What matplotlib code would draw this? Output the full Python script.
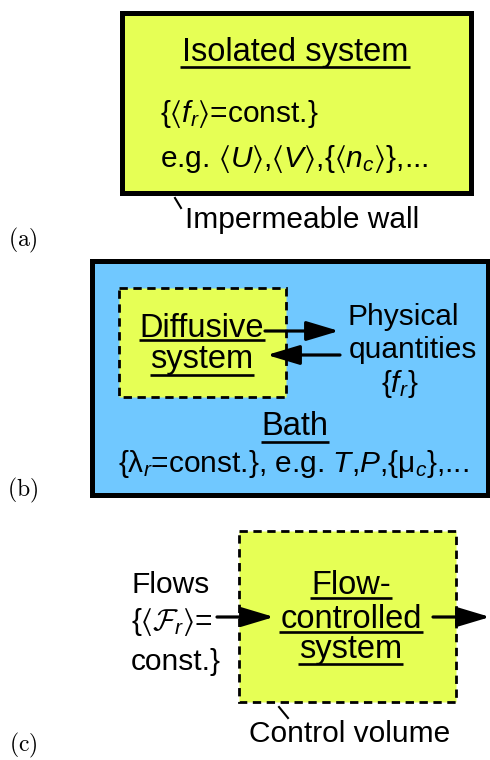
import matplotlib
matplotlib.use("Agg")
import matplotlib.pyplot as plt
from matplotlib.patches import Rectangle, FancyArrowPatch

# ---- text content ----
PANEL_LABELS = ["(a)", "(b)", "(c)"]
ISOLATED_TITLE = "Isolated system"
ISOLATED_LINES = [r"{$\langle f_r\rangle$=const.}",
                  r"e.g. $\langle U\rangle$,$\langle V\rangle$,{$\langle n_c\rangle$},..."]
WALL_LABEL = "Impermeable wall"
DIFFUSIVE_TITLE = ["Diffusive", "system"]
PHYS_LINES = ["Physical", "quantities", r"{$f_r$}"]
BATH_TITLE = "Bath"
BATH_LINE = r"{λ$_r$=const.}, e.g. $T$,$P$,{μ$_c$},..."
FLOW_TITLE = ["Flow-", "controlled", "system"]
FLOWS_LINES = ["Flows", r"{$\langle\mathcal{F}_r\rangle$=", "const.}"]
CV_LABEL = "Control volume"

YELLOW = "#E6FF55"
BLUE = "#70C8FF"

plt.rcParams["font.family"] = ["Liberation Sans", "DejaVu Sans"]
plt.rcParams["mathtext.fontset"] = "custom"
plt.rcParams["mathtext.rm"] = "Liberation Sans"
plt.rcParams["mathtext.it"] = "Liberation Sans:italic"
plt.rcParams["mathtext.cal"] = "cmsy10"
plt.rcParams["mathtext.fallback"] = "stixsans"
plt.rcParams["lines.scale_dashes"] = False

HEAD = 23.5
BODY = 21.5

fig = plt.figure(figsize=(4.9, 7.6), dpi=100)
ax = fig.add_axes([0, 0, 1, 1])
ax.set_xlim(0, 490)
ax.set_ylim(760, 0)
ax.axis("off")


def uline(x0, x1, y):
    ax.plot([x0, x1], [y, y], color="black", lw=1.9, solid_capstyle="butt")


def arrow(x0, y0, x1, y1):
    ax.add_patch(FancyArrowPatch((x0, y0), (x1, y1),
                                 arrowstyle="-|>,head_length=1.0,head_width=0.3",
                                 mutation_scale=20, lw=2.3, color="black",
                                 shrinkA=0, shrinkB=0))


# ---- (a) isolated system ----
ax.add_patch(Rectangle((121.5, 12.5), 349, 180, facecolor=YELLOW,
                       edgecolor="black", lw=3.6))
ax.text(295, 61, ISOLATED_TITLE, fontsize=HEAD, ha="center", va="baseline")
uline(180, 410, 67)
ax.text(160, 122, ISOLATED_LINES[0], fontsize=BODY, ha="left", va="baseline")
ax.text(160, 167, ISOLATED_LINES[1], fontsize=BODY, ha="left", va="baseline")
ax.plot([175, 181], [198, 208], color="black", lw=1.5)
ax.text(185, 228, WALL_LABEL, fontsize=BODY, ha="left", va="baseline")

# ---- (b) diffusive system in bath ----
ax.add_patch(Rectangle((91.5, 260.5), 396, 234, facecolor=BLUE,
                       edgecolor="black", lw=3.6))
ax.add_patch(Rectangle((119, 288), 167, 109, facecolor=YELLOW,
                       edgecolor="black", lw=2.0, linestyle=(0, (6, 4))))
ax.text(202, 337, DIFFUSIVE_TITLE[0], fontsize=HEAD, ha="center", va="baseline")
uline(139, 265, 340)
ax.text(202, 368, DIFFUSIVE_TITLE[1], fontsize=HEAD, ha="center", va="baseline")
uline(150, 254, 375)
arrow(265, 331, 339, 331)
arrow(340, 355, 267, 355)
ax.text(403, 325, PHYS_LINES[0], fontsize=BODY, ha="center", va="baseline")
ax.text(413, 358, PHYS_LINES[1], fontsize=BODY, ha="center", va="baseline")
ax.text(400, 392, PHYS_LINES[2], fontsize=BODY, ha="center", va="baseline")
ax.text(295, 435, BATH_TITLE, fontsize=HEAD, ha="center", va="baseline")
uline(261, 329, 442)
ax.text(293, 472, BATH_LINE, fontsize=BODY, ha="center", va="baseline")

# ---- (c) flow-controlled system ----
ax.add_patch(Rectangle((239, 531), 217, 171, facecolor=YELLOW,
                       edgecolor="black", lw=2.0, linestyle=(0, (6, 4))))
ax.text(351, 594, FLOW_TITLE[0], fontsize=HEAD, ha="center", va="baseline")
uline(310, 392, 598)
ax.text(351, 628, FLOW_TITLE[1], fontsize=HEAD, ha="center", va="baseline")
uline(279, 423, 632)
ax.text(351, 658, FLOW_TITLE[2], fontsize=HEAD, ha="center", va="baseline")
uline(298, 403, 664)
ax.text(131, 593, FLOWS_LINES[0], fontsize=BODY, ha="left", va="baseline")
ax.text(131, 630, FLOWS_LINES[1], fontsize=BODY, ha="left", va="baseline")
ax.text(131, 670, FLOWS_LINES[2], fontsize=BODY, ha="left", va="baseline")
arrow(217, 617, 274, 617)
arrow(433, 617, 490, 617)
ax.plot([279, 288], [707, 718], color="black", lw=1.5)
ax.text(350, 742, CV_LABEL, fontsize=BODY, ha="center", va="baseline")

# ---- panel labels ----
for lab, y in zip(PANEL_LABELS, [240, 490, 745]):
    ax.text(23, y, "$\\mathrm{%s}$" % lab, fontsize=17, ha="center", va="center",
            math_fontfamily="cm")

fig.savefig("out.png", dpi=100)
